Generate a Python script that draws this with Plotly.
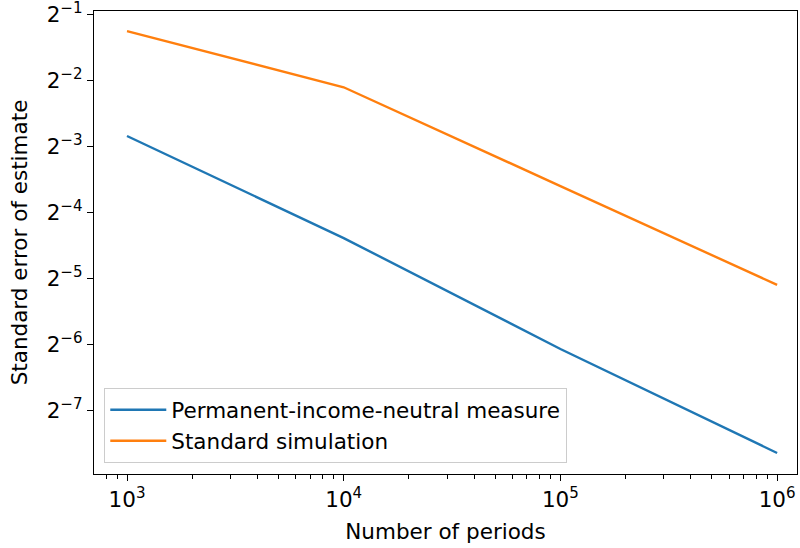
import plotly.graph_objects as go

periods = [1e3, 1e4, 1e5, 1e6]
pin_measure = [0.1391, 0.0477, 0.01491, 0.00501]
standard_sim = [0.418, 0.2319, 0.0823, 0.0292]

x_tick_exps = [3, 4, 5, 6]
y_tick_exps = [-1, -2, -3, -4, -5, -6, -7]
minor_mults = [2, 3, 4, 5, 6, 7, 8, 9]
minor_decades = [2, 3, 4, 5, 6]

font_family = "DejaVu Sans"
fs = 21.5

fig = go.Figure()
fig.add_trace(go.Scatter(x=periods, y=pin_measure, mode="lines",
                         name="Permanent-income-neutral measure",
                         line=dict(color="#1f77b4", width=2.4)))
fig.add_trace(go.Scatter(x=periods, y=standard_sim, mode="lines",
                         name="Standard simulation",
                         line=dict(color="#ff7f0e", width=2.4)))

minor_vals = [m * 10 ** d for d in minor_decades for m in minor_mults]

fig.update_layout(
    width=800, height=548,
    margin=dict(l=94, r=3, t=11, b=74),
    paper_bgcolor="white", plot_bgcolor="white",
    font=dict(family=font_family, size=fs, color="black"),
    showlegend=True,
    legend=dict(x=0.0142, y=0.0238, xanchor="left", yanchor="bottom",
                bgcolor="rgba(255,255,255,0.8)", bordercolor="#cccccc",
                borderwidth=1.3, font=dict(size=fs), tracegroupgap=0,
                itemwidth=56),
    xaxis=dict(type="log", range=[2.8477, 6.0918], automargin=False,
               ticklabeloverflow="allow",
               tickmode="array", tickvals=[10 ** e for e in x_tick_exps],
               ticktext=[f"10<sup>{e}</sup>" for e in x_tick_exps],
               ticks="outside", ticklen=6, tickwidth=1.3, tickcolor="black",
               showline=True, linecolor="black", linewidth=1.3, mirror=True,
               showgrid=False, zeroline=False,
               minor=dict(tickmode="array", tickvals=minor_vals, ticks="outside",
                          ticklen=3.5, tickwidth=1, tickcolor="black", showgrid=False),
               title=dict(text="Number of periods", standoff=12,
                          font=dict(size=fs))),
    yaxis=dict(type="log", range=[-2.3959, -0.28737], automargin=False,
               ticklabeloverflow="allow",
               tickmode="array", tickvals=[2.0 ** e for e in y_tick_exps],
               ticktext=[f"2<sup>\u2212{abs(e)}</sup>" for e in y_tick_exps],
               ticks="outside", ticklen=6, tickwidth=1.3, tickcolor="black",
               showline=True, linecolor="black", linewidth=1.3, mirror=True,
               showgrid=False, zeroline=False,
               title=dict(text="Standard error of estimate", standoff=13,
                          font=dict(size=fs))),
)

fig.write_html("out.html", post_script="document.body.style.margin='0';",
               config={"displayModeBar": False})
